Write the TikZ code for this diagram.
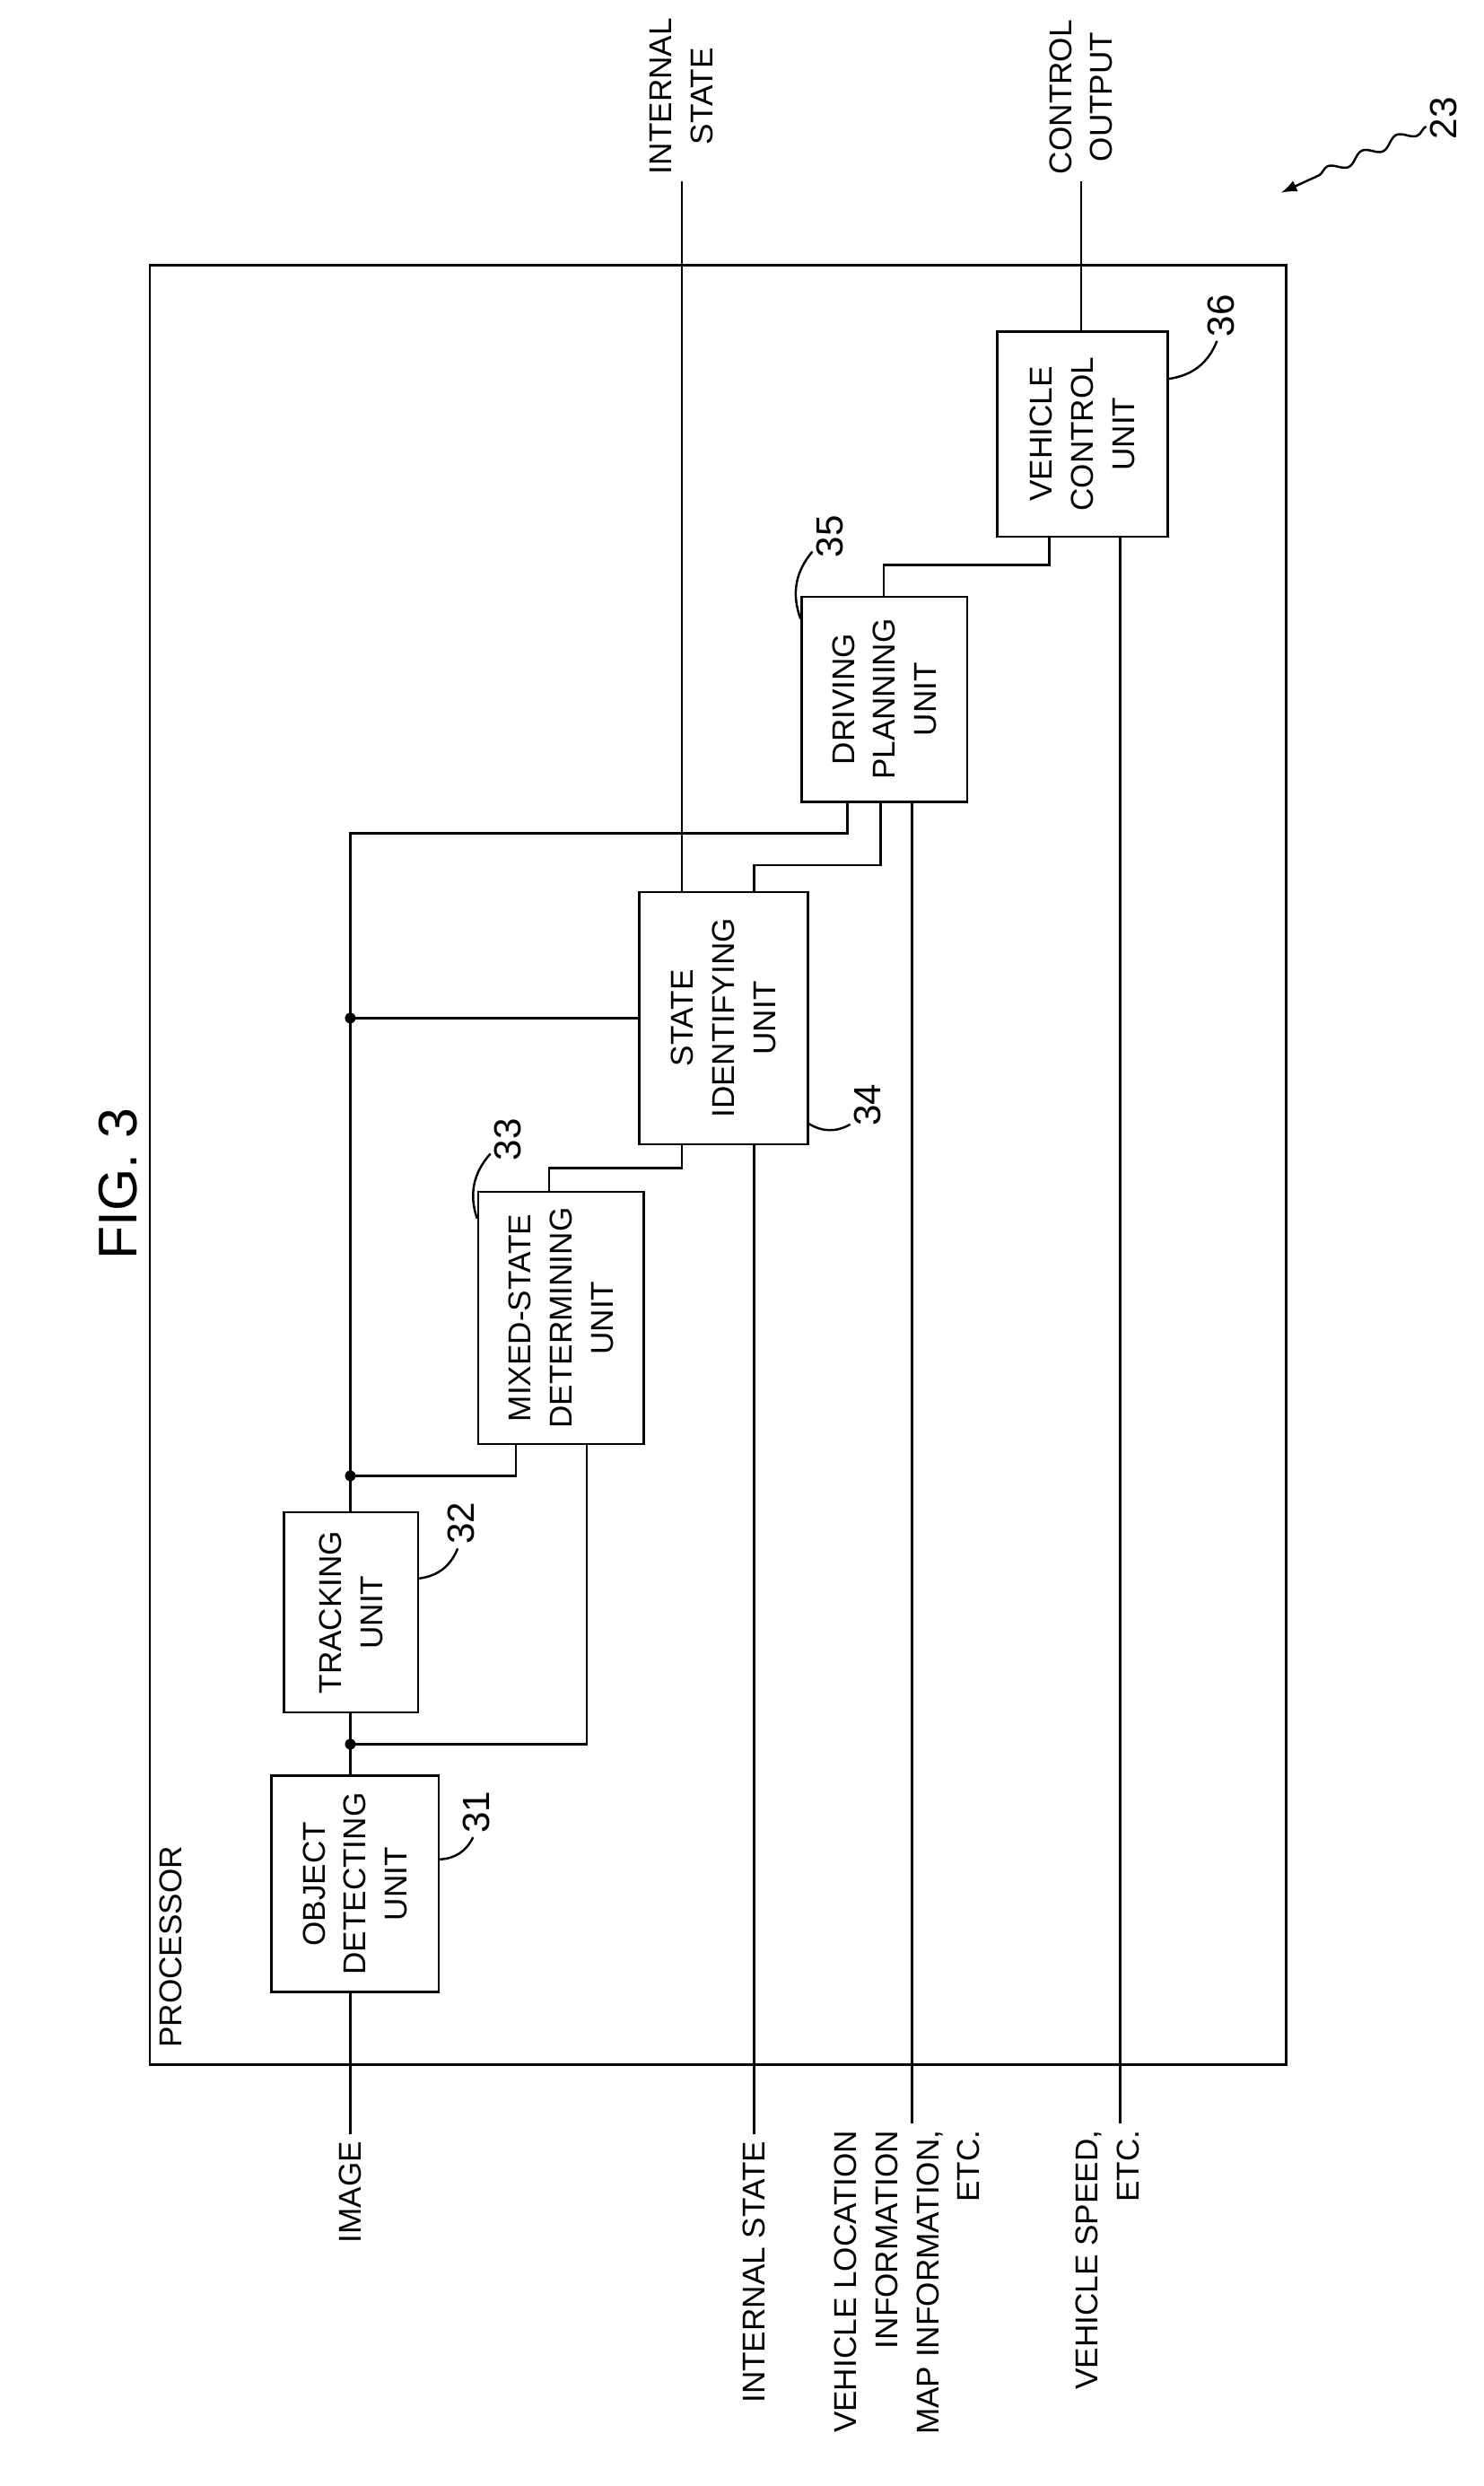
\documentclass[tikz,border=0pt]{standalone}
\usepackage{fontspec}
\setmainfont{Liberation Sans}
\usetikzlibrary{positioning,decorations.pathmorphing}

\tikzset{
  unit/.style={draw, rotate=90, align=center, font=\fontsize{10}{13}\selectfont, inner sep=1pt},
  lbl/.style={rotate=90, font=\fontsize{10}{13}\selectfont, inner sep=2pt},
  num/.style={rotate=90, font=\fontsize{12}{14}\selectfont, inner sep=1pt},
  dot/.style={circle, fill, inner sep=1.2pt},
}

\begin{document}
\begin{tikzpicture}[x=0.01759cm, y=-0.01759cm, line width=0.7pt]
  \useasboundingbox (0,0) rectangle (940,1575);

  \node[rotate=90, font=\LARGE] (title) at (75,750) {FIG. 3};

  % processor
  \draw (95,168) rectangle (815,1308);
  \node[lbl, anchor=west] (proc) at (108,1302) {PROCESSOR};

  % units
  \node[unit, minimum width=2.41cm, minimum height=1.865cm] (b31) at (225,1193.5) {OBJECT\\DETECTING\\UNIT};
  \node[unit, minimum width=2.234cm, minimum height=1.495cm] (b32) at (222.5,1021.5) {TRACKING\\UNIT};
  \node[unit, minimum width=2.814cm, minimum height=1.847cm] (b33) at (355.5,835) {MIXED-STATE\\DETERMINING\\UNIT};
  \node[unit, minimum width=2.814cm, minimum height=1.882cm] (b34) at (458.5,645) {STATE\\IDENTIFYING\\UNIT};
  \node[unit, minimum width=2.287cm, minimum height=1.847cm] (b35) at (560.5,443) {DRIVING\\PLANNING\\UNIT};
  \node[unit, minimum width=2.287cm, minimum height=1.9cm] (b36) at (686,275) {VEHICLE\\CONTROL\\UNIT};

  % inputs and outputs
  \node[lbl, anchor=east] (image) at (222,1352) {IMAGE};
  \node[lbl, anchor=east] (stin) at (478,1352) {INTERNAL STATE};
  \node[lbl, anchor=east, align=right] (loc) at (575,1345) {VEHICLE LOCATION\\INFORMATION\\MAP INFORMATION,\\ETC.};
  \node[lbl, anchor=east, align=right] (speed) at (702,1345) {VEHICLE SPEED,\\ETC.};
  \node[lbl, anchor=west, align=center] (stout) at (432,115) {INTERNAL\\STATE};
  \node[lbl, anchor=west, align=center] (ctrl) at (685,115) {CONTROL\\OUTPUT};

  \coordinate (j1) at (222,1105);
  \coordinate (j2) at (222,935);
  \coordinate (j3) at (222,645);
  \node[dot] at (j1) {};
  \node[dot] at (j2) {};
  \node[dot] at (j3) {};

  \draw (image.east) -- (b31.west -| 222,0);
  \draw (b31.east -| 222,0) -- (b32.west -| 222,0);
  \draw (j1) -| (b33.west -| 372,0);
  \draw (b32.east -| 222,0) -- (222,528) -| (b35.west -| 537,0);
  \draw (j2) -| (b33.west -| 327,0);
  \draw (j3) -- (b34.north);
  \draw (b33.east -| 348,0) -- (348,740) -| (b34.west -| 432,0);
  \draw (stout.west) -- (b34.east -| 432,0);
  \draw (b34.west -| 478,0) -- (stin.east);
  \draw (b34.east -| 478,0) -- (478,548) -| (b35.west -| 558,0);
  \draw (b35.west -| 578,0) -- (578,1345);
  \draw (b35.east -| 560,0) -- (560,358) -| (b36.west -| 665,0);
  \draw (ctrl.west) -- (b36.east -| 685,0);
  \draw (b36.west -| 710,0) -- (710,1345);

  % reference numerals
  \node[num] (n31) at (302,1148) {31};
  \node[num] (n32) at (292,965) {32};
  \node[num] (n33) at (322,722) {33};
  \node[num] (n34) at (550,700) {34};
  \node[num] (n35) at (526,340) {35};
  \node[num] (n36) at (774,200) {36};
  \node[num] (n23) at (915,75) {23};
  \draw (n31) to[bend left=30] (b31.south |- 0,1178);
  \draw (n32) to[bend left=30] (b32.south |- 0,1000);
  \draw (n33) to[bend right=30] (b33.north |- 0,772);
  \draw (n34) to[bend left=30] (b34.south |- 0,712);
  \draw (n35) to[bend right=30] (b35.north |- 0,392);
  \draw (n36) to[bend left=30] (b36.south |- 0,240);
  \coordinate (p23) at (812,122);
  \draw[-latex, decorate, decoration={snake, amplitude=1.5pt, segment length=12pt, post length=4mm}] (n23) -- (p23);
\end{tikzpicture}
\end{document}
